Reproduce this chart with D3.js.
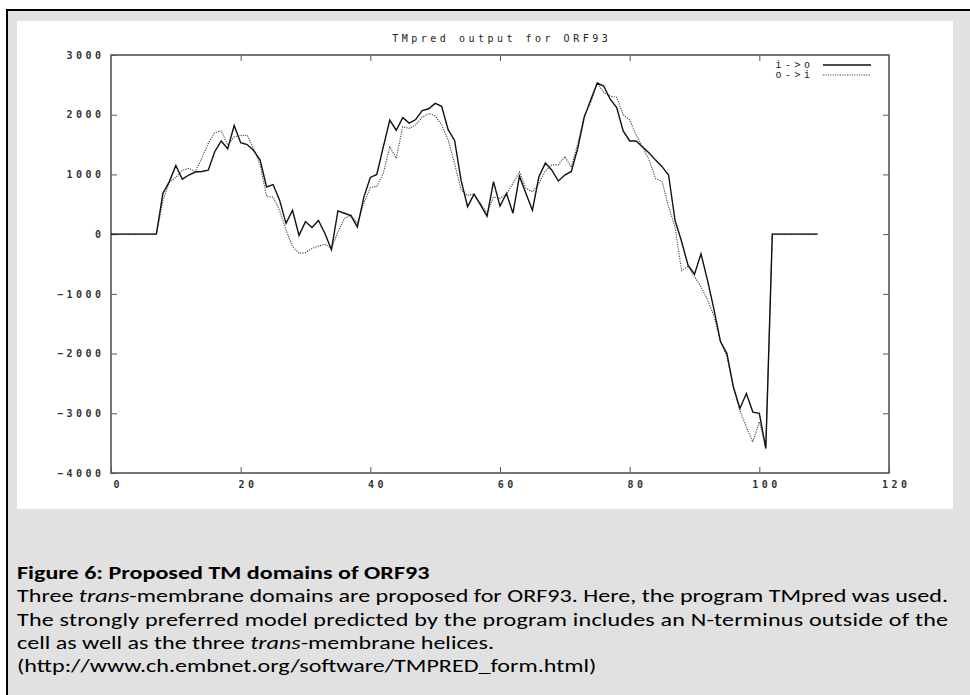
<!DOCTYPE html>
<html>
<head>
<meta charset="utf-8">
<script src="https://cdn.jsdelivr.net/npm/d3@7"></script>
<style>
  html, body { margin: 0; padding: 0; background: #fff; }
  svg { display: block; }
</style>
</head>
<body>
<div id="chart"></div>
<script>
// TMpred scores per residue position (index 0..109)
const ioScores = [
  0, 0, 0, 0, 0, 0, 0, 0, 680, 880,
  1150, 920, 990, 1040, 1050, 1070, 1380, 1560, 1430, 1820,
  1530, 1500, 1400, 1240, 790, 830, 570, 180, 400, -20,
  210, 110, 230, 10, -260, 390, 350, 310, 120, 620,
  950, 1000, 1460, 1910, 1740, 1950, 1860, 1920, 2070, 2100,
  2190, 2140, 1750, 1570, 900, 460, 670, 490, 300, 880,
  470, 680, 350, 970, 680, 400, 960, 1190, 1070, 890,
  990, 1050, 1440, 1960, 2250, 2530, 2480, 2260, 2120, 1730,
  1560, 1560, 1460, 1360, 1240, 1130, 990, 230, -120, -520,
  -670, -330, -770, -1260, -1800, -2000, -2560, -2920, -2670, -2980,
  -3000, -3590, 0, 0, 0, 0, 0, 0, 0, 0
];
const oiScores = [
  0, 0, 0, 0, 0, 0, 0, 0, 560, 870,
  950, 1070, 1100, 1050, 1270, 1520, 1700, 1730, 1490, 1630,
  1650, 1660, 1430, 1160, 630, 620, 400, 70, -210, -320,
  -310, -240, -200, -170, -240, 40, 260, 320, 180, 520,
  780, 800, 1020, 1460, 1270, 1800, 1770, 1830, 1960, 2020,
  1980, 1830, 1580, 1180, 740, 650, 670, 510, 350, 620,
  600, 670, 850, 1040, 770, 710, 850, 1060, 1160, 1160,
  1300, 1120, 1520, 1990, 2200, 2530, 2370, 2310, 2290, 2000,
  1910, 1660, 1460, 1240, 930, 880, 460, 120, -610, -540,
  -710, -880, -1100, -1370, -1790, -2050, -2560, -2950, -3230, -3480,
  -3140, -3560, 0, 0, 0, 0, 0, 0, 0, 0
];
const seriesNames = ["i->o", "o->i"];
const xTicks = [0, 20, 40, 60, 80, 100, 120];
const yTicks = [-4000, -3000, -2000, -1000, 0, 1000, 2000, 3000];
const chartTitle = "TMpred output for ORF93";
const captionTitle = "Figure 6: Proposed TM domains of ORF93";
// each line is a list of [text, italic]
const captionLines = [
  [["Three ", false], ["trans", true], ["-membrane domains are proposed for ORF93. Here, the program TMpred was used.", false]],
  [["The strongly preferred model predicted by the program includes an N-terminus outside of the", false]],
  [["cell as well as the three ", false], ["trans", true], ["-membrane helices.", false]],
  [["(http://www.ch.embnet.org/software/TMPRED_form.html)", false]]
];

const W = 970, H = 695;
const svg = d3.select("#chart").append("svg")
  .attr("width", W)
  .attr("height", H);

// grey frame and white plot panel
svg.append("rect")
  .attr("x", 7).attr("y", 10)
  .attr("width", 1000).attr("height", 720)
  .attr("fill", "#e1e1e1")
  .attr("stroke", "#000")
  .attr("stroke-width", 2);
svg.append("rect")
  .attr("x", 17).attr("y", 21)
  .attr("width", 936).attr("height", 488)
  .attr("fill", "#fff");

const plot = { left: 111, right: 889, top: 55, bottom: 473 };
const x = d3.scaleLinear().domain([0, 120]).range([plot.left, plot.right]);
const y = d3.scaleLinear().domain([-4000, 3000]).range([plot.bottom, plot.top]);

const mono = "'DejaVu Sans Mono', 'Liberation Mono', monospace";
const monoSize = 10;
const ls = 3.5; // letter spacing of the bitmap-like font

function monoText(sel) {
  sel.attr("font-family", mono)
    .attr("font-size", monoSize)
    .attr("letter-spacing", ls)
    .attr("fill", "#222");
}

function styleAxis(g) {
  g.select(".domain").remove();
  g.selectAll(".tick line").attr("stroke", "#555").attr("stroke-width", 1);
  g.selectAll(".tick text").call(monoText).attr("font-weight", "bold").attr("fill", "#333");
}

// bottom axis with labels
svg.append("g")
  .attr("transform", `translate(0,${plot.bottom})`)
  .call(d3.axisBottom(x).tickValues(xTicks).tickSize(-6).tickFormat(d3.format("d")))
  .call(styleAxis)
  .call(g => g.selectAll(".tick text").attr("y", 15).attr("dy", null).attr("dx", ls / 2 + 5));

// top axis ticks only
svg.append("g")
  .attr("transform", `translate(0,${plot.top})`)
  .call(d3.axisTop(x).tickValues(xTicks.slice(1, -1)).tickSize(-6).tickFormat(""))
  .call(styleAxis);

// left axis with labels
svg.append("g")
  .attr("transform", `translate(${plot.left},0)`)
  .call(d3.axisLeft(y).tickValues(yTicks).tickSize(-6).tickFormat(d3.format("d")))
  .call(styleAxis)
  .call(g => g.selectAll(".tick text").attr("x", -10 + ls));

// right axis ticks only
svg.append("g")
  .attr("transform", `translate(${plot.right},0)`)
  .call(d3.axisRight(y).tickValues(yTicks.slice(1, -1)).tickSize(-6).tickFormat(""))
  .call(styleAxis);

// plot box
svg.append("rect")
  .attr("x", plot.left).attr("y", plot.top)
  .attr("width", plot.right - plot.left)
  .attr("height", plot.bottom - plot.top)
  .attr("fill", "none")
  .attr("stroke", "#555")
  .attr("stroke-width", 1.6);

// title
svg.append("text")
  .attr("x", (plot.left + plot.right) / 2 + ls / 2)
  .attr("y", 42)
  .attr("text-anchor", "middle")
  .call(monoText)
  .text(chartTitle);

// series
const line = d3.line()
  .x((d, i) => x(i))
  .y(d => y(d));

svg.append("path")
  .datum(oiScores)
  .attr("d", line)
  .attr("fill", "none")
  .attr("stroke", "#444")
  .attr("stroke-width", 1.1)
  .attr("stroke-dasharray", "1.2,1.2");

svg.append("path")
  .datum(ioScores)
  .attr("d", line)
  .attr("fill", "none")
  .attr("stroke", "#111")
  .attr("stroke-width", 1.4);

// legend
const legend = svg.append("g");
seriesNames.forEach((name, i) => {
  const ly = 65 + i * 10;
  legend.append("text")
    .attr("x", plot.right - 79 + ls)
    .attr("y", ly + 3)
    .attr("text-anchor", "end")
    .call(monoText)
    .text(name);
  legend.append("line")
    .attr("x1", plot.right - 66).attr("x2", plot.right - 18)
    .attr("y1", ly).attr("y2", ly)
    .attr("stroke", i === 0 ? "#111" : "#444")
    .attr("stroke-width", i === 0 ? 1.4 : 1.1)
    .attr("stroke-dasharray", i === 0 ? null : "1.2,1.2");
});

// caption below the panel (source image is stretched sideways)
const capFont = "Carlito, Calibri, Lato, sans-serif";
const capLeft = 17, capWidth = 931, capSize = 17.5;
const cap = svg.append("g")
  .attr("font-family", capFont)
  .attr("font-size", capSize)
  .attr("fill", "#000");

function addLine(segments, yPos) {
  const t = cap.append("text").attr("x", 0).attr("y", 0)
    .attr("transform", `translate(${capLeft},${yPos})`);
  segments.forEach(([s, it]) => {
    t.append("tspan").attr("font-style", it ? "italic" : null).text(s);
  });
  return t;
}

// horizontal stretch so the first full line fills the width
const probe = addLine(captionLines[0], -100);
const sx = capWidth / probe.node().getComputedTextLength();
probe.remove();

const lineGap = 23.3;
const firstBase = 579;
cap.append("text")
  .attr("transform", `translate(${capLeft},${firstBase}) scale(${sx},1)`)
  .attr("font-weight", "bold")
  .text(captionTitle);
captionLines.forEach((segs, i) => {
  const yPos = firstBase + (i + 1) * lineGap;
  const t = addLine(segs, yPos).attr("transform", `translate(${capLeft},${yPos}) scale(${sx},1)`);
  if (i < 2) t.attr("textLength", capWidth / sx).attr("lengthAdjust", "spacing");
});
</script>
</body>
</html>
